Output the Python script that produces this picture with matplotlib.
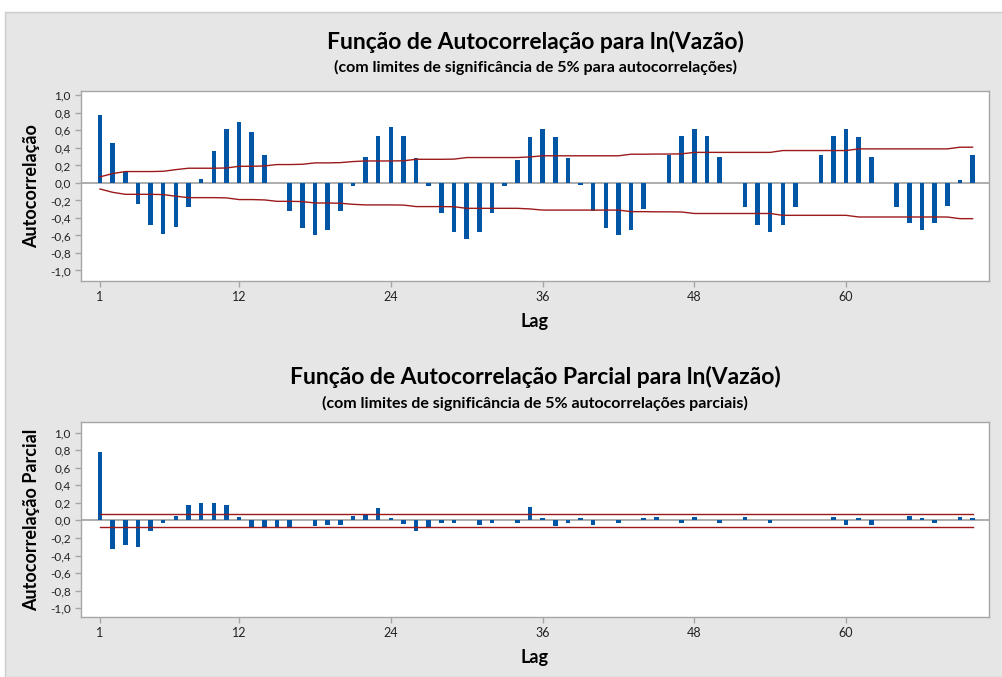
import matplotlib
matplotlib.use("Agg")
import matplotlib.pyplot as plt
from matplotlib.patches import Rectangle
import numpy as np

plt.rcParams['font.family'] = ['Lato', 'DejaVu Sans']

# lags 1..70
lags = np.arange(1, 71)

# autocorrelation values
acf = [0.78, 0.46, 0.12, -0.24, -0.48, -0.58, -0.50, -0.28, 0.04, 0.36,
       0.62, 0.70, 0.58, 0.32, 0.0, -0.32, -0.52, -0.60, -0.54, -0.32,
       -0.03, 0.30, 0.54, 0.64, 0.54, 0.28, -0.04, -0.34, -0.56, -0.64,
       -0.56, -0.34, -0.04, 0.26, 0.52, 0.62, 0.52, 0.28, -0.02, -0.32,
       -0.52, -0.60, -0.54, -0.30, 0.0, 0.32, 0.54, 0.62, 0.54, 0.30,
       0.0, -0.28, -0.48, -0.56, -0.48, -0.28, 0.0, 0.32, 0.54, 0.62,
       0.52, 0.30, 0.0, -0.28, -0.46, -0.54, -0.46, -0.26, 0.03, 0.32]

# 5% significance limit (upper, lower is symmetric)
acf_lim = [0.069, 0.107, 0.13, 0.13, 0.13, 0.133, 0.152, 0.168, 0.168, 0.168,
           0.171, 0.19, 0.19, 0.194, 0.21, 0.21, 0.213, 0.229, 0.229, 0.232,
           0.244, 0.251, 0.251, 0.251, 0.253, 0.27, 0.27, 0.27, 0.272, 0.29,
           0.29, 0.29, 0.29, 0.29, 0.297, 0.31, 0.31, 0.31, 0.31, 0.31,
           0.31, 0.31, 0.328, 0.328, 0.33, 0.33, 0.332, 0.349, 0.349, 0.349,
           0.349, 0.349, 0.349, 0.349, 0.37, 0.37, 0.37, 0.37, 0.37, 0.37,
           0.389, 0.389, 0.389, 0.389, 0.389, 0.389, 0.389, 0.389, 0.408, 0.408]

# partial autocorrelation values
pacf = [0.775, -0.325, -0.28, -0.30, -0.12, -0.025, 0.054, 0.176, 0.195, 0.195,
        0.176, 0.034, -0.088, -0.088, -0.088, -0.088, 0.0, -0.065, -0.05, -0.05,
        0.054, 0.073, 0.138, 0.03, -0.04, -0.12, -0.08, -0.03, -0.03, 0.0,
        -0.05, -0.03, 0.0, -0.03, 0.157, 0.025, -0.065, -0.03, 0.025, -0.05,
        0.0, -0.03, 0.0, 0.025, 0.04, 0.0, -0.03, 0.04, 0.0, -0.03,
        0.0, 0.04, 0.0, -0.03, 0.0, 0.0, 0.0, 0.0, 0.04, -0.05,
        0.025, -0.05, 0.0, 0.0, 0.05, 0.025, -0.03, 0.0, 0.04, 0.025]
pacf_lim = 0.071

xticks = [1, 12, 24, 36, 48, 60]
yticks = np.round(np.arange(-1.0, 1.01, 0.2), 1)
ytick_labels = [("%.1f" % v).replace(".", ",").replace("-0,0", "0,0") for v in yticks]

bar_color = "#0055a5"
lim_color = "#9c1a1a"
frame_color = "#a6a6a6"

fig = plt.figure(figsize=(10.02, 6.77), dpi=100)
fig.patch.set_facecolor("white")
fig.patches.append(Rectangle((5 / 1002, 0), 1, 1 - 12 / 677, transform=fig.transFigure,
                             facecolor="#e6e6e6", edgecolor="#cccccc", lw=1, zorder=-10))

ax1 = fig.add_axes([81 / 1002, 1 - 281 / 677, 908 / 1002, 190 / 677])
ax2 = fig.add_axes([81 / 1002, 1 - 617 / 677, 908 / 1002, 195 / 677])


def style(ax, ylabel, ylim):
    ax.set_facecolor("white")
    ax.set_xlim(-0.5, 71.3)
    ax.set_ylim(*ylim)
    ax.axhline(0, color="#a0a0a0", lw=1.2, zorder=1)
    ax.set_xticks(xticks)
    ax.set_xticklabels([str(t) for t in xticks], fontsize=9)
    ax.set_yticks(yticks)
    ax.set_yticklabels(ytick_labels, fontsize=8.5)
    ax.tick_params(axis="both", colors=frame_color, labelcolor="#222222", length=4, width=1)
    for s in ax.spines.values():
        s.set_color(frame_color)
        s.set_linewidth(1)
    ax.set_xlabel("Lag", fontsize=13, fontweight="bold", labelpad=7)
    ax.set_ylabel(ylabel, fontsize=13, fontweight="bold", labelpad=7)


# ACF
ax1.bar(lags, acf, width=0.36, color=bar_color, zorder=2)
ax1.plot(lags, acf_lim, color=lim_color, lw=1, zorder=3)
ax1.plot(lags, -np.array(acf_lim), color=lim_color, lw=1, zorder=3)
style(ax1, "Autocorrelação", (-1.12, 1.05))

# PACF
ax2.bar(lags, pacf, width=0.36, color=bar_color, zorder=2)
ax2.plot(lags, [pacf_lim] * len(lags), color=lim_color, lw=1, zorder=3)
ax2.plot(lags, [-pacf_lim] * len(lags), color=lim_color, lw=1, zorder=3)
style(ax2, "Autocorrelação Parcial", (-1.10, 1.12))

cx = (81 + 989) / 2 / 1002
fig.text(cx, 1 - 42 / 677, "Função de Autocorrelação para ln(Vazão)",
         ha="center", va="center", fontsize=16.5, fontweight="bold")
fig.text(cx, 1 - 67 / 677, "(com limites de significância de 5% para autocorrelações)",
         ha="center", va="center", fontsize=11.5, fontweight="bold")
fig.text(cx, 1 - 377 / 677, "Função de Autocorrelação Parcial para ln(Vazão)",
         ha="center", va="center", fontsize=16.5, fontweight="bold")
fig.text(cx, 1 - 403 / 677, "(com limites de significância de 5% autocorrelações parciais)",
         ha="center", va="center", fontsize=11.5, fontweight="bold")

fig.savefig("out.png", dpi=100)
